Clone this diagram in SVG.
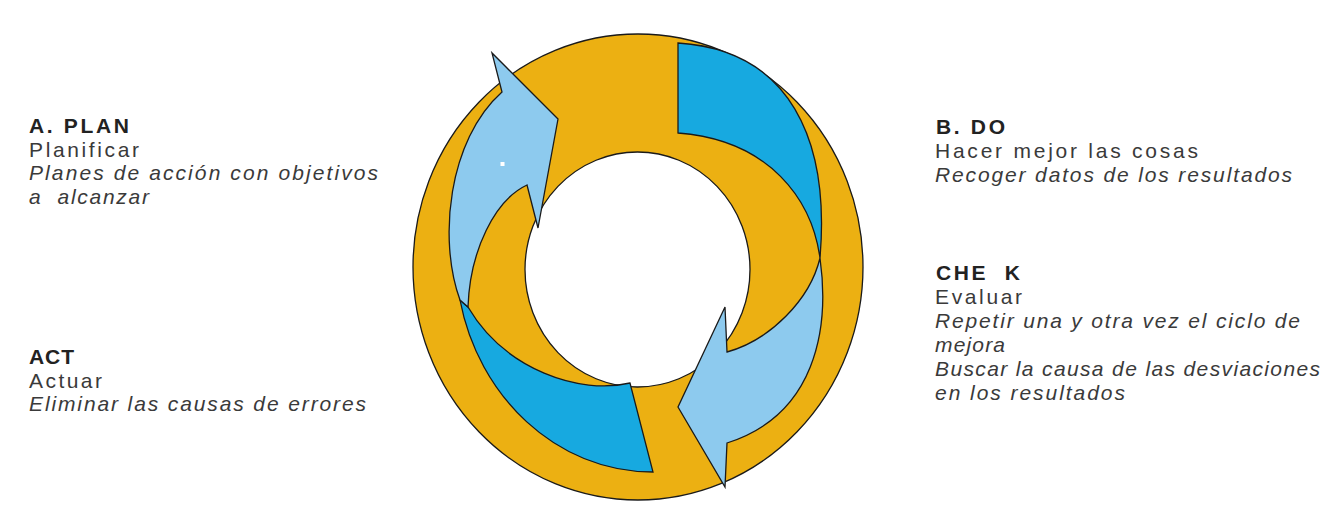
<svg xmlns="http://www.w3.org/2000/svg" width="1342" height="513" viewBox="0 0 1342 513">
<style>
  text { font-family: "Liberation Sans", Arial, sans-serif; font-size: 21px; fill: #3a3a3a; }
  .b { font-weight: bold; fill: #222222; }
  .i { font-style: italic; }
  .ring { fill: #ECB012; stroke: #1a1a1a; stroke-width: 1.3; }
  .hole { fill: #ffffff; stroke: #1a1a1a; stroke-width: 1.3; }
  .dark { fill: #17A9E0; stroke: #1a1a1a; stroke-width: 1.3; stroke-linejoin: miter; }
  .light { fill: #8DCAEE; stroke: #1a1a1a; stroke-width: 1.3; stroke-linejoin: miter; }
</style>
<rect width="1342" height="513" fill="#ffffff"/>
<g id="cycle">
  <ellipse class="ring" cx="638" cy="267" rx="225" ry="233"/>
  <ellipse class="hole" cx="637.5" cy="269.5" rx="112.5" ry="117.5"/>
</g>
<g id="connectors">
  <path id="arrow-do" class="dark" d="M678,43 C790,50 830,140 820,258 C812,200 770,140 678,133 Z"/>
  <path id="arrow-check" class="light" d="M820,258 C830,330 815,415 727,443 L725,487 L678,407 L725,307 L727,352 C770,340 810,300 820,258 Z"/>
  <path id="arrow-act" class="dark" d="M460,300 C478,395 555,472 653,472 L630,383 C580,395 505,370 468,307 Z"/>
  <path id="arrow-plan" class="light" d="M460,300 C438,240 448,140 502,92 L492,53 L558,119 L538,228 L527,185 C495,200 470,250 468,307 Z"/>
  <rect x="500.5" y="162" width="4" height="4" fill="#ffffff"/>
</g>
<g id="node-plan">
  <text class="b" x="29" y="133" textLength="100">A. PLAN</text>
  <text x="29" y="156.5" textLength="110">Planificar</text>
  <text class="i" x="29" y="180" textLength="349">Planes de acción con objetivos</text>
  <text class="i" x="29" y="203.5" textLength="120" xml:space="preserve">a  alcanzar</text>
</g>
<g id="node-do">
  <text class="b" x="936" y="134" textLength="69">B. DO</text>
  <text x="935" y="158" textLength="263">Hacer mejor las cosas</text>
  <text class="i" x="935" y="182" textLength="357">Recoger datos de los resultados</text>
</g>
<g id="node-check">
  <text class="b" x="936" y="280" textLength="84" xml:space="preserve">CHE  K</text>
  <text x="935" y="304" textLength="87">Evaluar</text>
  <text class="i" x="935" y="328" textLength="365">Repetir una y otra vez el ciclo de</text>
  <text class="i" x="935" y="352" textLength="70">mejora</text>
  <text class="i" x="935" y="376" textLength="385">Buscar la causa de las desviaciones</text>
  <text class="i" x="935" y="400" textLength="190">en los resultados</text>
</g>
<g id="node-act">
  <text class="b" x="29" y="364" textLength="45">ACT</text>
  <text x="29" y="387.5" textLength="73">Actuar</text>
  <text class="i" x="29" y="411" textLength="337">Eliminar las causas de errores</text>
</g>
</svg>
